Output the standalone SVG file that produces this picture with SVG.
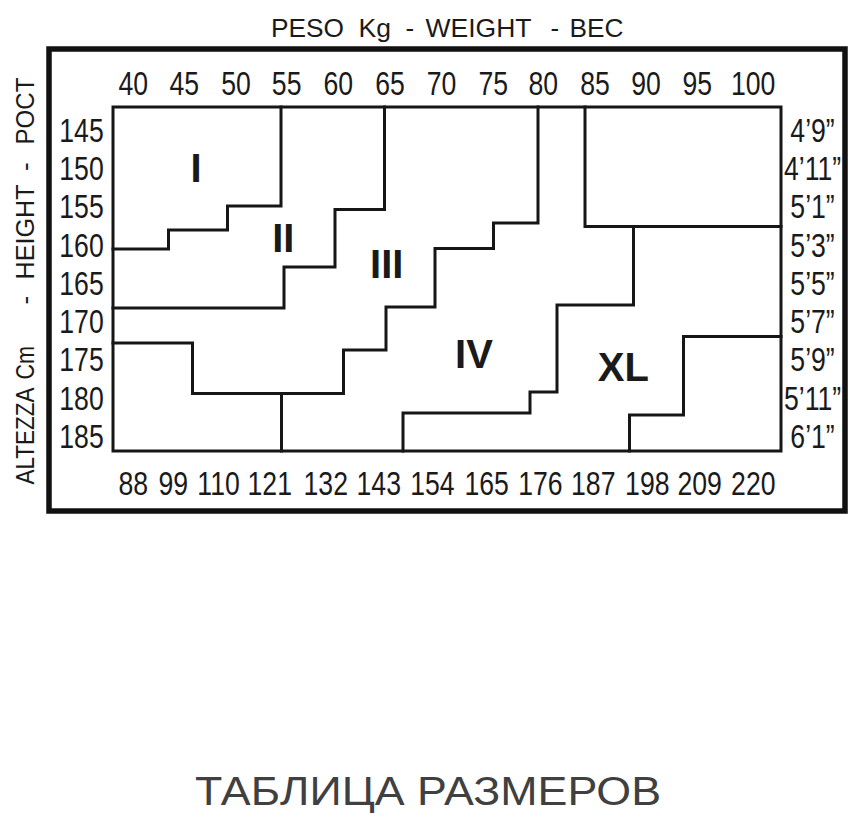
<svg xmlns="http://www.w3.org/2000/svg" width="866" height="825" viewBox="0 0 866 825">
<style>
.ln{fill:none;stroke:#161616;stroke-width:3;stroke-linejoin:miter;stroke-linecap:square}
.frame{fill:none;stroke:#111;stroke-width:5.5}
.num{font-family:"Liberation Sans",Arial,sans-serif;font-size:32.5px;fill:#1a1a1a;text-anchor:middle}
.hdr{font-family:"Liberation Sans",Arial,sans-serif;font-size:26px;fill:#1a1a1a}
.rom{font-family:"Liberation Sans",Arial,sans-serif;font-size:40px;font-weight:bold;fill:#1a1a1a;text-anchor:middle}
.ttl{font-family:"Liberation Sans",Arial,"Noto Sans",sans-serif;font-size:40px;fill:#404040}
</style>
<rect width="866" height="825" fill="#fff"/>
<g id="frame"><rect class="frame" x="49" y="49" width="796" height="462"/></g>
<g id="title">
<text class="hdr" y="36.5"><tspan x="271" textLength="73" lengthAdjust="spacingAndGlyphs">PESO</tspan></text>
<text class="hdr" y="36.5" x="358.5" textLength="32.5" lengthAdjust="spacingAndGlyphs">Kg</text>
<text class="hdr" y="36.5" x="405.5">-</text>
<text class="hdr" y="36.5" x="425.5" textLength="106" lengthAdjust="spacingAndGlyphs">WEIGHT</text>
<text class="hdr" y="36.5" x="550.5">-</text>
<text class="hdr" y="36.5" x="569.5" textLength="54" lengthAdjust="spacingAndGlyphs">BEC</text>
</g>
<g id="ylabel" transform="translate(33.5,0) rotate(-90)">
<text class="hdr" x="-484.5" y="0" textLength="97" lengthAdjust="spacingAndGlyphs">ALTEZZA</text>
<text class="hdr" x="-379.5" y="0" textLength="33.5" lengthAdjust="spacingAndGlyphs">Cm</text>
<text class="hdr" x="-304.5" y="0">-</text>
<text class="hdr" x="-279.5" y="0" textLength="95" lengthAdjust="spacingAndGlyphs">HEIGHT</text>
<text class="hdr" x="-171" y="0">-</text>
<text class="hdr" x="-144.5" y="0" textLength="67" lengthAdjust="spacingAndGlyphs">POCT</text>
</g>
<g id="connectors">
<path class="ln" d="M113,107 H781 V451 H113 Z"/>
<path class="ln" d="M281,107 V206 H227.5 V230 H168.5 V249 H113"/>
<path class="ln" d="M384.5,107 V209.5 H335 V267 H284 V308 H113"/>
<path class="ln" d="M538,107 V223 H493.5 V248.5 H435 V307 H386 V350 H343.5 V393.5 H192.5 V343 H113"/>
<path class="ln" d="M281.5,393.5 V451"/>
<path class="ln" d="M585,107 V226.5 H781"/>
<path class="ln" d="M633.5,226.5 V305 H557 V392 H530 V413 H403 V451"/>
<path class="ln" d="M781,336.5 H683.5 V415 H629.5 V451"/>
</g>
<g id="numbers" transform="scale(0.82 1)">
<g id="top-kg">
<text class="num" x="162.6" y="95">40</text>
<text class="num" x="224.8" y="95">45</text>
<text class="num" x="287.8" y="95">50</text>
<text class="num" x="349.6" y="95">55</text>
<text class="num" x="412.6" y="95">60</text>
<text class="num" x="475.6" y="95">65</text>
<text class="num" x="538.4" y="95">70</text>
<text class="num" x="601.6" y="95">75</text>
<text class="num" x="662.6" y="95">80</text>
<text class="num" x="725.6" y="95">85</text>
<text class="num" x="787.8" y="95">90</text>
<text class="num" x="850.4" y="95">95</text>
<text class="num" x="918.5" y="95">100</text>
</g>
<g id="bottom-lb">
<text class="num" x="162.6" y="495">88</text>
<text class="num" x="211.3" y="495">99</text>
<text class="num" x="266.5" y="495">110</text>
<text class="num" x="329" y="495">121</text>
<text class="num" x="397.3" y="495">132</text>
<text class="num" x="461.9" y="495">143</text>
<text class="num" x="527.4" y="495">154</text>
<text class="num" x="593.5" y="495">165</text>
<text class="num" x="659.1" y="495">176</text>
<text class="num" x="723.5" y="495">187</text>
<text class="num" x="789.4" y="495">198</text>
<text class="num" x="853.3" y="495">209</text>
<text class="num" x="918.7" y="495">220</text>
</g>
<g id="left-cm">
<text class="num" x="99.4" y="141.7">145</text>
<text class="num" x="99.4" y="180">150</text>
<text class="num" x="99.4" y="218.3">155</text>
<text class="num" x="99.4" y="256.6">160</text>
<text class="num" x="99.4" y="294.9">165</text>
<text class="num" x="99.4" y="333.2">170</text>
<text class="num" x="99.4" y="371.5">175</text>
<text class="num" x="99.4" y="409.8">180</text>
<text class="num" x="99.4" y="448.1">185</text>
</g>
<g id="right-ft">
<text class="num" x="990.9" y="141.7">4’9”</text>
<text class="num" x="990.9" y="180">4’11”</text>
<text class="num" x="990.9" y="218.3">5’1”</text>
<text class="num" x="990.9" y="256.6">5’3”</text>
<text class="num" x="990.9" y="294.9">5’5”</text>
<text class="num" x="990.9" y="333.2">5’7”</text>
<text class="num" x="990.9" y="371.5">5’9”</text>
<text class="num" x="990.9" y="409.8">5’11”</text>
<text class="num" x="990.9" y="448.1">6’1”</text>
</g>
</g>
<g id="size-I"><text class="rom" x="196" y="181.7">I</text></g>
<g id="size-II"><text class="rom" x="283.3" y="252.3">II</text></g>
<g id="size-III"><text class="rom" x="386.7" y="278.3">III</text></g>
<g id="size-IV"><text class="rom" x="474" y="368.3">IV</text></g>
<g id="size-XL"><text class="rom" x="623.3" y="380.7">XL</text></g>
<g id="caption"><text class="ttl" x="195" y="805" textLength="466" lengthAdjust="spacingAndGlyphs">ТАБЛИЦА РАЗМЕРОВ</text></g>
</svg>
